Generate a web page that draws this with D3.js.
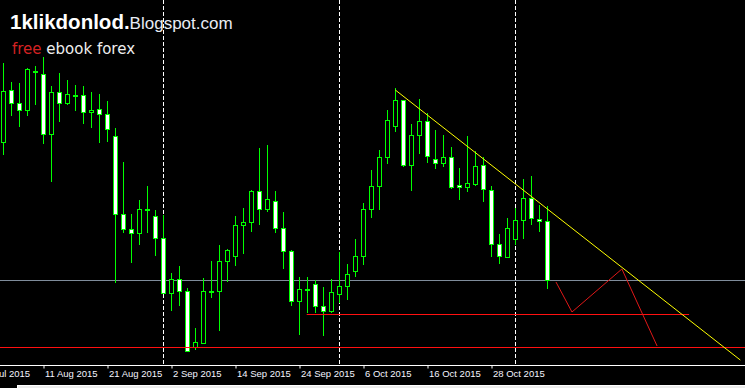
<!DOCTYPE html>
<html>
<head>
<meta charset="utf-8">
<script src="https://cdn.jsdelivr.net/npm/d3@7"></script>
<style>
  body { margin: 0; background: #000; overflow: hidden; }
  svg { display: block; }
</style>
</head>
<body>
<div id="chart"></div>
<script>
// daily bars, index 0 = 4 Aug 2015 (price scale not shown on the original)
var open  = [258,310,297,290,329,326,266,308,297,305,305,288,291,286,264,186,171,167,191,184,
             162,107,121,109, 53, 57,109,109,139,144,175,178,209,191,199,172,149, 99,111,116,
              94, 89,106,114,129,144,191,214,243,274,300,235,265,279,241,237,243,215,213,216,
             235,210,156,143,161,180,202,181,179];
var high  = [337,318,317,332,334,343,314,327,320,315,314,308,306,299,272,238,186,200,214,190,
             185,127,134,112, 72,122,139,155,151,184,192,210,252,255,209,188,150,123,123,120,
             113,121,148,136,161,197,230,250,290,312,300,276,301,287,270,265,253,232,264,249,
             243,214,166,182,192,221,224,195,194];
var low   = [245,284,273,284,295,256,218,278,295,289,276,272,257,258,117,167,137,155,167,144,
             107, 89, 94, 49, 50, 57,102, 69,118,134,146,168,175,188,167,131, 94, 65, 87, 87,
              64, 87, 97,100,123,135,182,190,236,268,233,209,246,237,231,233,211,200,208,214,
             198,143,136,143,155,161,175,168,111];
var close = [309,297,290,331,328,266,308,297,306,305,288,290,286,271,186,171,167,191,191,162,
             107,121,109, 49, 58,109,109,139,150,175,178,209,191,201,172,149, 99,111,111, 94,
              89,108,114,126,144,191,214,243,280,300,235,265,279,244,237,243,213,213,217,234,
             211,156,144,172,180,202,182,179,120];

var tickIdx    = [-3, 5, 13, 21, 29, 37, 45, 53, 61];
var tickLabels = ["30 Jul 2015", "11 Aug 2015", "21 Aug 2015", "2 Sep 2015", "14 Sep 2015",
                  "24 Sep 2015", "6 Oct 2015", "16 Oct 2015", "28 Oct 2015"];
var separators = [20, 42, 64];   // 1 Sep, 1 Oct, 2 Nov

var grayLevel   = 120;
var redLevels   = [{from: -1, to: 100, v: 53}, {from: 37.9, to: 85.7, v: 86}];
var trendLine   = [{i: 48.98, v: 310}, {i: 92.1, v: 40}];
var zigzag      = [{i: 69.06, v: 118}, {i: 71.06, v: 88}, {i: 77.3, v: 131}, {i: 81.7, v: 54}];

var W = 745, H = 388, axisY = 365;

var svg = d3.select("#chart").append("svg")
    .attr("width", W).attr("height", H);

svg.append("rect").attr("width", W).attr("height", H).style("fill", "#000");

var x = d3.scaleLinear().domain([0, 68]).range([3.5, 547.5]);
var y = d3.scaleLinear().domain([35, 400]).range([axisY, 0]);

var bars = d3.range(open.length).map(function(i) {
  return {i: i, o: open[i], h: high[i], l: low[i], c: close[i]};
});

// period separators
svg.selectAll(".sep")
   .data(separators)
   .enter().append("line")
   .attr("class", "sep")
   .attr("x1", function(d) { return x(d); })
   .attr("x2", function(d) { return x(d); })
   .attr("y1", 0).attr("y2", axisY)
   .style("stroke", "#fff")
   .style("stroke-dasharray", "4,2");

// gray level
svg.append("line")
   .attr("x1", 0).attr("x2", W)
   .attr("y1", y(grayLevel) + 0.5).attr("y2", y(grayLevel) + 0.5)
   .style("stroke", "#7f8c9b");

// candles
var g = svg.append("g");
g.selectAll(".wick")
 .data(bars)
 .enter().append("line")
 .attr("class", "wick")
 .attr("x1", function(d) { return x(d.i); })
 .attr("x2", function(d) { return x(d.i); })
 .attr("y1", function(d) { return y(d.h); })
 .attr("y2", function(d) { return y(d.l); })
 .style("stroke", "#00ff00");

g.selectAll(".body")
 .data(bars)
 .enter().append("rect")
 .attr("class", "body")
 .attr("x", function(d) { return x(d.i) - 2; })
 .attr("width", 4)
 .attr("y", function(d) { return y(Math.max(d.o, d.c)) + 0.5; })
 .attr("height", function(d) { return Math.max(1, Math.abs(d.o - d.c)); })
 .style("stroke", "#00ff00")
 .style("fill", function(d) {
   if (Math.abs(d.o - d.c) < 1.5) return "#00ff00";
   return d.c < d.o ? "#fff" : "#000";
 });

// red levels
svg.selectAll(".lvl")
   .data(redLevels)
   .enter().append("line")
   .attr("class", "lvl")
   .attr("x1", function(d) { return x(d.from); })
   .attr("x2", function(d) { return x(d.to); })
   .attr("y1", function(d) { return y(d.v) + 0.5; })
   .attr("y2", function(d) { return y(d.v) + 0.5; })
   .style("stroke", "#ff1010");

var line = d3.line()
    .x(function(d) { return x(d.i); })
    .y(function(d) { return y(d.v); });

svg.append("path")
   .attr("d", line(trendLine))
   .style("fill", "none")
   .style("stroke", "#ffff00");

svg.append("path")
   .attr("d", line(zigzag))
   .style("fill", "none")
   .style("stroke", "#e01818");

// time axis
svg.append("rect").attr("x", 0).attr("y", axisY).attr("width", W).attr("height", H - axisY)
   .style("fill", "#000");
svg.append("line")
   .attr("x1", 0).attr("x2", W)
   .attr("y1", axisY + 0.5).attr("y2", axisY + 0.5)
   .style("stroke", "#fff");

var xAxis = d3.axisBottom(x)
    .tickValues(tickIdx)
    .tickSize(3)
    .tickFormat(function(d, i) { return tickLabels[i]; });

var ax = svg.append("g")
    .attr("transform", "translate(0," + (axisY + 0.5) + ")")
    .call(xAxis);
ax.select(".domain").remove();
ax.selectAll(".tick line").style("stroke", "#fff");
ax.selectAll(".tick text")
  .attr("text-anchor", "start")
  .attr("x", 1).attr("y", 5)
  .style("fill", "#f4f4ff")
  .style("font-family", "'Liberation Sans', Arial, sans-serif")
  .style("font-size", "9.5px");

// status strip
svg.append("rect")
   .attr("x", 17.5).attr("y", 385.5).attr("width", 740).attr("height", 6)
   .style("fill", "#ececec").style("stroke", "#fff");

// watermark
var t1 = svg.append("text").attr("x", 10).attr("y", 29)
    .style("font-family", "'Liberation Sans', Arial, sans-serif").style("fill", "#fff");
t1.append("tspan").text("1klikdonlod.").style("font-weight", "bold").style("font-size", "20.5px");
t1.append("tspan").text("Blogspot.com").style("font-size", "17px").style("fill", "#e8ecf4");

var t2 = svg.append("text").attr("x", 12).attr("y", 54)
    .style("font-family", "'DejaVu Sans', sans-serif").style("font-size", "15px");
t2.append("tspan").text("free ").style("fill", "#d42222");
t2.append("tspan").text("ebook forex").style("fill", "#eeeeee");
</script>
</body>
</html>
